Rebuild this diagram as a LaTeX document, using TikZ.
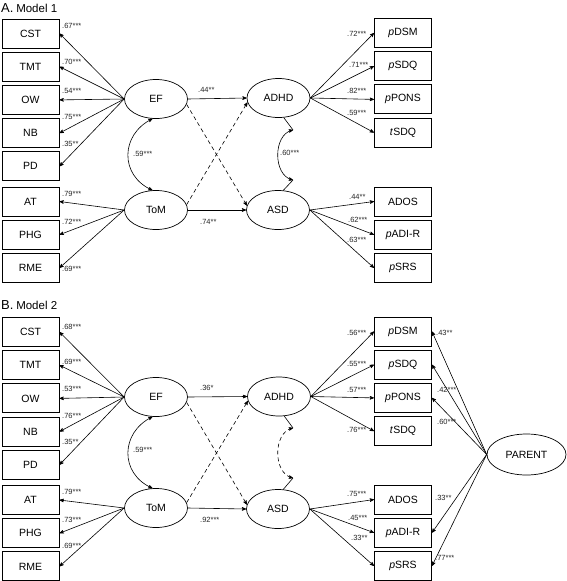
\documentclass[tikz,border=0pt]{standalone}
\usepackage{fontspec}
\setmainfont{Liberation Sans}
\usepackage{tikz}
\usetikzlibrary{arrows, shapes.geometric, positioning}
\tikzset{
  indicator/.style={draw, line width=1pt, minimum width=57pt, minimum height=29pt, inner sep=0pt, font=\fontsize{10.5}{12}\selectfont},
  latent/.style={draw, ellipse, line width=0.7pt, minimum width=63pt, minimum height=39pt, inner sep=0pt, font=\fontsize{10.5}{12}\selectfont},
  coef/.style={anchor=west, inner sep=0pt, font=\fontsize{7.5}{8}\selectfont, text=black!85},
  load/.style={->, line width=0.6pt},
  nopath/.style={dash pattern=on 4pt off 3pt},
  title/.style={anchor=west, inner sep=0pt},
}

\begin{document}
\begin{tikzpicture}[>=stealth', x=1pt, y=-1pt, node distance=3.2pt]
\useasboundingbox (0,0) rectangle (567,581);

\node[title] (titleA) at (1,8.5) {{\fontsize{13}{14}\selectfont A.} {\fontsize{11.5}{13}\selectfont Model 1}};
\node[indicator] (aCST) at (30.5,33.5) {CST};
\node[indicator, below=of aCST] (aTMT) {TMT};
\node[indicator, below=of aTMT] (aOW) {OW};
\node[indicator, below=of aOW] (aNB) {NB};
\node[indicator, below=of aNB] (aPD) {PD};
\node[indicator] (aAT) at (30.5,201.5) {AT};
\node[indicator, below=of aAT] (aPHG) {PHG};
\node[indicator, below=of aPHG] (aRME) {RME};
\node[latent] (aEF) at (156,99) {EF};
\node[latent] (aToM) at (156,210) {ToM};
\node[latent] (aADHD) at (278.5,98) {ADHD};
\node[latent] (aASD) at (278,210) {ASD};
\node[indicator] (apDSM) at (403,33) {\textit{p}DSM};
\node[indicator, below=of apDSM] (apSDQ) {\textit{p}SDQ};
\node[indicator, below=of apSDQ] (apPONS) {\textit{p}PONS};
\node[indicator, below=of apPONS] (atSDQ) {\textit{t}SDQ};
\node[indicator] (aADOS) at (403,201.5) {ADOS};
\node[indicator, below=of aADOS] (apADIR) {\textit{p}ADI-R};
\node[indicator, below=of apADIR] (apSRS) {\textit{p}SRS};
\coordinate (aP1) at (293,130);
\coordinate (aP2) at (293,180);

\draw[load] (aEF.west) -- (aCST.east);
\draw[load] (aEF.west) -- (aTMT.east);
\draw[load] (aEF.west) -- (aOW.east);
\draw[load] (aEF.west) -- (aNB.east);
\draw[load] (aEF.west) -- (aPD.east);
\draw[load] (aToM.west) -- (aAT.east);
\draw[load] (aToM.west) -- (aPHG.east);
\draw[load] (aToM.west) -- (aRME.east);
\draw[load] (aADHD.east) -- (apDSM.west);
\draw[load] (aADHD.east) -- (apSDQ.west);
\draw[load] (aADHD.east) -- (apPONS.west);
\draw[load] (aADHD.east) -- (atSDQ.west);
\draw[load] (aASD.east) -- (aADOS.west);
\draw[load] (aASD.east) -- (apADIR.west);
\draw[load] (aASD.east) -- (apSRS.west);
\draw[load] (aEF.east) -- (aADHD.west);
\draw[load] (aToM.east) -- (aASD.west);
\draw[load, nopath] (aEF.-10) -- (aASD.172);
\draw[load, nopath] (aToM.10) -- (aADHD.188);
\draw[<->, line width=0.6pt] (aEF.260) .. controls +(-32,16) and +(-33,-15) .. (aToM.100);
\draw[line width=0.6pt] (aADHD.-75) -- (aP1);
\draw[line width=0.6pt] (aP2) -- (aASD.75);
\draw[<->, line width=0.6pt] (aP1) .. controls +(-20,5) and +(-20,-5) .. (aP2);

\node[coef] (aL1) at (62,26) {.67***};
\node[coef] (aL2) at (62,62) {.70***};
\node[coef] (aL3) at (62,91) {.54***};
\node[coef] (aL4) at (62,117) {.75***};
\node[coef] (aL5) at (62,144) {.35**};
\node[coef] (aL6) at (62,194) {.79***};
\node[coef] (aL7) at (62,222) {.72***};
\node[coef] (aL8) at (62,269) {.69***};
\node[coef] (aR1) at (347,34) {.72***};
\node[coef] (aR2) at (349,65) {.71***};
\node[coef] (aR3) at (347,91) {.82***};
\node[coef] (aR4) at (347,113) {.59***};
\node[coef] (aR5) at (349,197) {.44**};
\node[coef] (aR6) at (348,220) {.62***};
\node[coef] (aR7) at (347,240) {.63***};
\node[coef] (aS1) at (198,90) {.44**};
\node[coef] (aS2) at (200,222) {.74**};
\node[coef] (aC1) at (133,154) {.59***};
\node[coef] (aC2) at (280,153) {.60***};

\node[title] (titleB) at (1,305) {{\fontsize{13}{14}\selectfont B.} {\fontsize{11.5}{13}\selectfont Model 2}};
\node[indicator] (bCST) at (30.5,332) {CST};
\node[indicator, below=of bCST] (bTMT) {TMT};
\node[indicator, below=of bTMT] (bOW) {OW};
\node[indicator, below=of bOW] (bNB) {NB};
\node[indicator, below=of bNB] (bPD) {PD};
\node[indicator] (bAT) at (30.5,500) {AT};
\node[indicator, below=of bAT] (bPHG) {PHG};
\node[indicator, below=of bPHG] (bRME) {RME};
\node[latent] (bEF) at (156,397) {EF};
\node[latent] (bToM) at (156,508) {ToM};
\node[latent] (bADHD) at (279,396.5) {ADHD};
\node[latent] (bASD) at (278,509) {ASD};
\node[indicator] (bpDSM) at (403,331.5) {\textit{p}DSM};
\node[indicator, below=of bpDSM] (bpSDQ) {\textit{p}SDQ};
\node[indicator, below=of bpSDQ] (bpPONS) {\textit{p}PONS};
\node[indicator, below=of bpPONS] (btSDQ) {\textit{t}SDQ};
\node[indicator] (bADOS) at (403,499.5) {ADOS};
\node[indicator, below=of bADOS] (bpADIR) {\textit{p}ADI-R};
\node[indicator, below=of bpADIR] (bpSRS) {\textit{p}SRS};
\node[latent, minimum width=79pt, minimum height=41pt] (bPARENT) at (526.5,454.5) {PARENT};
\coordinate (bP1) at (293,428);
\coordinate (bP2) at (293,478);

\draw[load] (bEF.west) -- (bCST.east);
\draw[load] (bEF.west) -- (bTMT.east);
\draw[load] (bEF.west) -- (bOW.east);
\draw[load] (bEF.west) -- (bNB.east);
\draw[load] (bEF.west) -- (bPD.east);
\draw[load] (bToM.west) -- (bAT.east);
\draw[load] (bToM.west) -- (bPHG.east);
\draw[load] (bToM.west) -- (bRME.east);
\draw[load] (bADHD.east) -- (bpDSM.west);
\draw[load] (bADHD.east) -- (bpSDQ.west);
\draw[load] (bADHD.east) -- (bpPONS.west);
\draw[load] (bADHD.east) -- (btSDQ.west);
\draw[load] (bASD.east) -- (bADOS.west);
\draw[load] (bASD.east) -- (bpADIR.west);
\draw[load] (bASD.east) -- (bpSRS.west);
\draw[load] (bPARENT.west) -- (bpDSM.east);
\draw[load] (bPARENT.west) -- (bpSDQ.east);
\draw[load] (bPARENT.west) -- (bpPONS.east);
\draw[load] (bPARENT.west) -- (bpADIR.east);
\draw[load] (bPARENT.west) -- (bpSRS.east);
\draw[load] (bEF.east) -- (bADHD.west);
\draw[load] (bToM.east) -- (bASD.west);
\draw[load, nopath] (bEF.-10) -- (bASD.172);
\draw[load, nopath] (bToM.10) -- (bADHD.188);
\draw[<->, line width=0.6pt] (bEF.260) .. controls +(-32,16) and +(-33,-15) .. (bToM.100);
\draw[line width=0.6pt] (bADHD.-75) -- (bP1);
\draw[line width=0.6pt] (bP2) -- (bASD.75);
\draw[<->, line width=0.6pt, nopath] (bP1) .. controls +(-20,5) and +(-20,-5) .. (bP2);

\node[coef] (bL1) at (62,327) {.68***};
\node[coef] (bL2) at (62,362) {.69***};
\node[coef] (bL3) at (62,389) {.53***};
\node[coef] (bL4) at (62,416) {.76***};
\node[coef] (bL5) at (62,442) {.35**};
\node[coef] (bL6) at (62,492) {.79***};
\node[coef] (bL7) at (62,520) {.73***};
\node[coef] (bL8) at (62,546) {.69***};
\node[coef] (bR1) at (347,333) {.56***};
\node[coef] (bR2) at (347,364) {.55***};
\node[coef] (bR3) at (347,390) {.57***};
\node[coef] (bR4) at (347,430) {.76***};
\node[coef] (bR5) at (347,494) {.75***};
\node[coef] (bR6) at (348,518) {.45***};
\node[coef] (bR7) at (351,538) {.33**};
\node[coef] (bQ1) at (436,333) {.43**};
\node[coef] (bQ2) at (437,390) {.42***};
\node[coef] (bQ3) at (437,422) {.60***};
\node[coef] (bQ4) at (435,498) {.33**};
\node[coef] (bQ5) at (435,558) {.77***};
\node[coef] (bS1) at (200,388) {.36*};
\node[coef] (bS2) at (200,520) {.92***};
\node[coef] (bC1) at (133,450) {.59***};
\end{tikzpicture}
\end{document}
